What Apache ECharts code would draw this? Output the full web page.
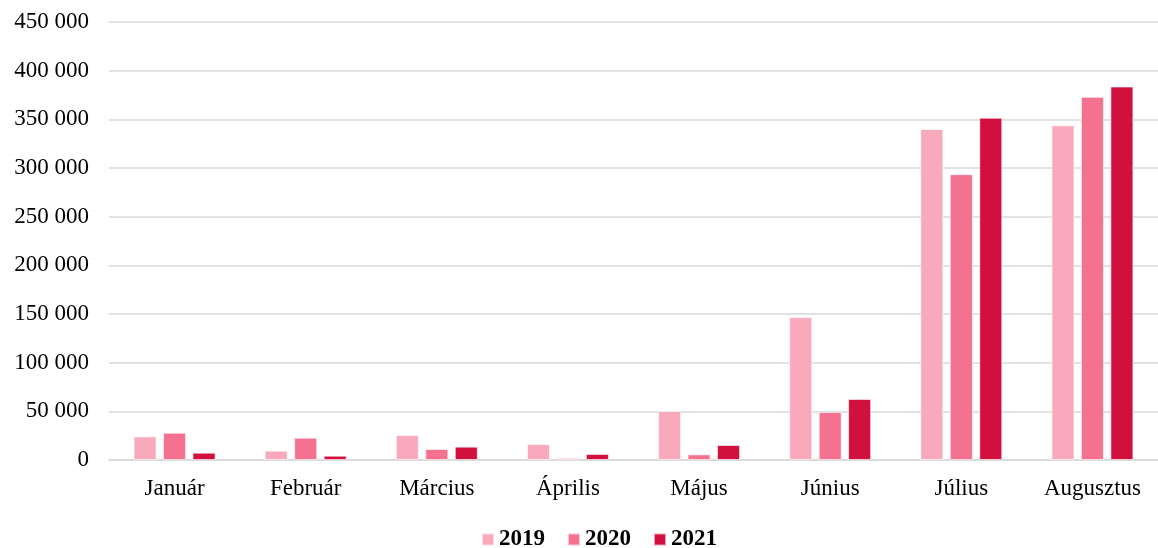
<!DOCTYPE html>
<html>
<head>
<meta charset="utf-8">
<script src="https://cdn.jsdelivr.net/npm/echarts@6/dist/echarts.min.js"></script>
<style>html,body{margin:0;padding:0;background:#fff;}#c{width:1158px;height:548px;}</style>
</head>
<body>
<div id="c"></div>
<script>
const categories = ['Január', 'Február', 'Március', 'Április', 'Május', 'Június', 'Július', 'Augusztus'];
const seriesNames = ['2019', '2020', '2021'];
const values2019 = [24300, 9600, 25700, 16400, 50300, 146800, 340100, 343800];
const values2020 = [28000, 22900, 11300, 2000, 5800, 49300, 293700, 373100];
const values2021 = [7500, 4400, 13700, 6200, 15400, 62700, 351700, 383700];
const colors = ['#F9A9BC', '#F4728F', '#D1103D'];

const chart = echarts.init(document.getElementById('c'), null, {renderer: 'canvas'});
const font = 'Liberation Serif';
const data = [values2019, values2020, values2021];
chart.setOption({
  animation: false,
  backgroundColor: '#ffffff',
  color: colors,
  grid: {left: 109, right: -4, top: 22, bottom: 88},
  legend: {
    top: 528, left: 481, padding: 0,
    itemWidth: 12, itemHeight: 12, itemGap: 22,
    icon: 'rect',
    textStyle: {fontFamily: font, fontSize: 23, fontWeight: 'bold', color: '#000'},
    data: seriesNames
  },
  xAxis: {
    type: 'category',
    data: categories,
    axisLine: {lineStyle: {color: '#D9D9D9', width: 1.5}},
    axisTick: {show: false},
    axisLabel: {fontFamily: font, fontSize: 23, color: '#000', margin: 17}
  },
  yAxis: {
    type: 'value',
    min: 0, max: 450000, interval: 50000,
    axisLine: {show: false},
    axisTick: {show: false},
    splitLine: {lineStyle: {color: '#D9D9D9', width: 1.5}},
    axisLabel: {
      fontFamily: font, fontSize: 23, color: '#000', margin: 20,
      formatter: v => String(v).replace(/\B(?=(\d{3})+(?!\d))/g, ' ')
    }
  },
  series: seriesNames.map((n, i) => ({
    name: n,
    type: 'bar',
    data: data[i],
    barGap: '28%',
    barCategoryGap: '37.5%',
    itemStyle: {color: colors[i], borderColor: 'rgba(255,255,255,0.6)', borderWidth: 1}
  }))
});
</script>
</body>
</html>
